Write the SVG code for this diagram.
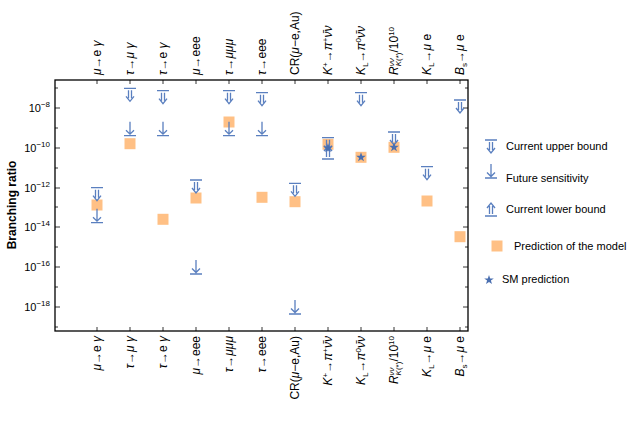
<svg xmlns="http://www.w3.org/2000/svg" width="630" height="428" viewBox="0 0 630 428">
<style>
text{font-family:"Liberation Sans",Arial,sans-serif;fill:#000}
.lab{font-size:12px}
.leg{font-size:11px}
.tk{font-size:11px}
.b{stroke:#5a7fbf;stroke-width:1.3;fill:none}
.sq{fill:#ffb066;opacity:0.8}
.st{fill:#4a6fb0}
.i{font-style:italic}
.sup{font-size:8px}
</style>
<defs>
<g id="up"><path class="b" d="M-6,0H6M-1.5,2V10M1.5,2V10M-4,8L0,13L4,8"/></g>
<g id="fut"><path class="b" d="M-6,0H6M0,-14V-1.5M-4,-5.5L0,-1.5L4,-5.5"/></g>
<g id="low"><path class="b" d="M-6,0H6M-1.5,-2V-10M1.5,-2V-10M-4,-8L0,-13L4,-8"/></g>
<rect id="sqr" x="-5.5" y="-5.5" width="11" height="11" class="sq"/>
<polygon id="star" class="st" points="0,-5 1.2,-1.6 4.8,-1.6 1.9,0.6 3,4 0,2 -3,4 -1.9,0.6 -4.8,-1.6 -1.2,-1.6"/>
</defs>
<g id="frame" stroke="#000" fill="none">
<rect x="55" y="80" width="413" height="251" stroke-width="1.3"/>
<path stroke-width="0.8" d="M55,108h5M55,148h5M55,188h5M55,227h5M55,267h5M55,307h5M55,88h3M55,128h3M55,168h3M55,207h3M55,247h3M55,287h3M55,327h3
M468,108h-5M468,148h-5M468,188h-5M468,227h-5M468,267h-5M468,307h-5M468,88h-3M468,128h-3M468,168h-3M468,207h-3M468,247h-3M468,287h-3M468,327h-3
M97,331v-4M130,331v-4M163,331v-4M196,331v-4M229,331v-4M262,331v-4M295,331v-4M328,331v-4M361,331v-4M394,331v-4M427,331v-4M460,331v-4
M97,80v4M130,80v4M163,80v4M196,80v4M229,80v4M262,80v4M295,80v4M328,80v4M361,80v4M394,80v4M427,80v4M460,80v4"/>
</g>
<g id="yaxis" class="tk" text-anchor="end">
<text x="50" y="112">10<tspan class="sup" dy="-5">−8</tspan></text>
<text x="50" y="152">10<tspan class="sup" dy="-5">−10</tspan></text>
<text x="50" y="192">10<tspan class="sup" dy="-5">−12</tspan></text>
<text x="50" y="231">10<tspan class="sup" dy="-5">−14</tspan></text>
<text x="50" y="271">10<tspan class="sup" dy="-5">−16</tspan></text>
<text x="50" y="311">10<tspan class="sup" dy="-5">−18</tspan></text>
<text transform="translate(16,205) rotate(-90)" text-anchor="middle" style="font-size:12px;font-weight:bold">Branching ratio</text>
</g>
<g id="toplabels" class="lab" text-anchor="start">
<text transform="translate(101,75) rotate(-90)"><tspan class="i">μ</tspan>→e <tspan class="i">γ</tspan></text>
<text transform="translate(134,75) rotate(-90)"><tspan class="i">τ</tspan>→<tspan class="i">μ γ</tspan></text>
<text transform="translate(167,75) rotate(-90)"><tspan class="i">τ</tspan>→e <tspan class="i">γ</tspan></text>
<text transform="translate(200,75) rotate(-90)"><tspan class="i">μ</tspan>→eee</text>
<text transform="translate(233,75) rotate(-90)"><tspan class="i">τ</tspan>→<tspan class="i">μμμ</tspan></text>
<text transform="translate(266,75) rotate(-90)"><tspan class="i">τ</tspan>→eee</text>
<text transform="translate(299,75) rotate(-90)">CR(<tspan class="i">μ</tspan>−e,Au)</text>
<text transform="translate(332,75) rotate(-90)"><tspan class="i">K</tspan><tspan class="sup" dy="-4">+</tspan><tspan dy="4">→</tspan><tspan class="i">π</tspan><tspan class="sup" dy="-4">+</tspan><tspan dy="4" class="i">ν̄ν</tspan></text>
<text transform="translate(365,75) rotate(-90)"><tspan class="i">K</tspan><tspan class="sup" dy="3">L</tspan><tspan dy="-3">→</tspan><tspan class="i">π</tspan><tspan class="sup" dy="-4">0</tspan><tspan dy="4" class="i">ν̄ν</tspan></text>
<text transform="translate(398,75) rotate(-90)"><tspan class="i">R</tspan><tspan class="sup i" dy="-4">νν</tspan><tspan class="sup" dx="-8" dy="7"><tspan class="i">K</tspan>(*)</tspan><tspan dy="-3">/10</tspan><tspan class="sup" dy="-4">10</tspan></text>
<text transform="translate(431,75) rotate(-90)"><tspan class="i">K</tspan><tspan class="sup" dy="3">L</tspan><tspan dy="-3">→</tspan><tspan class="i">μ</tspan> e</text>
<text transform="translate(464,75) rotate(-90)"><tspan class="i">B</tspan><tspan class="sup" dy="3">s</tspan><tspan dy="-3">→</tspan><tspan class="i">μ</tspan> e</text>
</g>
<g id="bottomlabels" class="lab" text-anchor="end">
<text transform="translate(101,336) rotate(-90)"><tspan class="i">μ</tspan>→e <tspan class="i">γ</tspan></text>
<text transform="translate(134,336) rotate(-90)"><tspan class="i">τ</tspan>→<tspan class="i">μ γ</tspan></text>
<text transform="translate(167,336) rotate(-90)"><tspan class="i">τ</tspan>→e <tspan class="i">γ</tspan></text>
<text transform="translate(200,336) rotate(-90)"><tspan class="i">μ</tspan>→eee</text>
<text transform="translate(233,336) rotate(-90)"><tspan class="i">τ</tspan>→<tspan class="i">μμμ</tspan></text>
<text transform="translate(266,336) rotate(-90)"><tspan class="i">τ</tspan>→eee</text>
<text transform="translate(299,336) rotate(-90)">CR(<tspan class="i">μ</tspan>−e,Au)</text>
<text transform="translate(332,336) rotate(-90)"><tspan class="i">K</tspan><tspan class="sup" dy="-4">+</tspan><tspan dy="4">→</tspan><tspan class="i">π</tspan><tspan class="sup" dy="-4">+</tspan><tspan dy="4" class="i">ν̄ν</tspan></text>
<text transform="translate(365,336) rotate(-90)"><tspan class="i">K</tspan><tspan class="sup" dy="3">L</tspan><tspan dy="-3">→</tspan><tspan class="i">π</tspan><tspan class="sup" dy="-4">0</tspan><tspan dy="4" class="i">ν̄ν</tspan></text>
<text transform="translate(398,336) rotate(-90)"><tspan class="i">R</tspan><tspan class="sup i" dy="-4">νν</tspan><tspan class="sup" dx="-8" dy="7"><tspan class="i">K</tspan>(*)</tspan><tspan dy="-3">/10</tspan><tspan class="sup" dy="-4">10</tspan></text>
<text transform="translate(431,336) rotate(-90)"><tspan class="i">K</tspan><tspan class="sup" dy="3">L</tspan><tspan dy="-3">→</tspan><tspan class="i">μ</tspan> e</text>
<text transform="translate(464,336) rotate(-90)"><tspan class="i">B</tspan><tspan class="sup" dy="3">s</tspan><tspan dy="-3">→</tspan><tspan class="i">μ</tspan> e</text>
</g>
<g id="data">
<use href="#sqr" x="97" y="205"/><use href="#up" x="97" y="187.7"/><use href="#fut" x="97" y="222.7"/>
<use href="#sqr" x="130" y="143.7"/><use href="#up" x="130" y="88.3"/><use href="#fut" x="130" y="135.7"/>
<use href="#sqr" x="163" y="219.3"/><use href="#up" x="163" y="90.7"/><use href="#fut" x="163" y="135.7"/>
<use href="#sqr" x="196" y="198"/><use href="#up" x="196" y="180"/><use href="#fut" x="196" y="274"/>
<use href="#sqr" x="229" y="122"/><use href="#up" x="229" y="90.7"/><use href="#fut" x="229" y="135.7"/>
<use href="#sqr" x="262" y="197.3"/><use href="#up" x="262" y="92.7"/><use href="#fut" x="262" y="135.7"/>
<use href="#sqr" x="295" y="201.7"/><use href="#up" x="295" y="183.3"/><use href="#fut" x="295" y="314"/>
<use href="#sqr" x="328" y="144.3"/><use href="#up" x="328" y="137.7"/><use href="#low" x="328" y="159"/><use href="#star" x="328" y="148"/>
<use href="#sqr" x="361" y="157.3"/><use href="#up" x="361" y="92.7"/><use href="#star" x="361" y="157.3"/>
<use href="#sqr" x="394" y="147.3"/><use href="#up" x="394" y="132"/><use href="#star" x="394" y="147.3"/>
<use href="#sqr" x="427" y="201"/><use href="#up" x="427" y="166.7"/>
<use href="#sqr" x="460" y="236.7"/><use href="#up" x="460" y="100"/>
</g>
<g id="legend" class="leg">
<use href="#up" x="491" y="140"/><text x="506" y="150">Current upper bound</text>
<use href="#fut" x="491" y="178"/><text x="506" y="182">Future sensitivity</text>
<use href="#low" x="491" y="216"/><text x="506" y="213">Current lower bound</text>
<use href="#sqr" x="497" y="246"/><text x="514" y="250">Prediction of the model</text>
<use href="#star" x="489" y="280"/><text x="502" y="283">SM prediction</text>
</g>
</svg>
